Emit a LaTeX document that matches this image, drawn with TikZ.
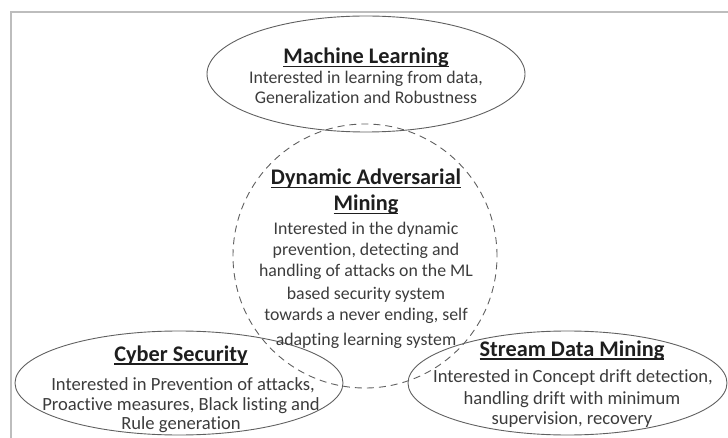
\documentclass[tikz,border=0pt]{standalone}
\usepackage{fontspec}
\setmainfont{Carlito}[Ligatures=CommonOff]
\usetikzlibrary{shapes.geometric}
\definecolor{edgegray}{HTML}{606060}
\definecolor{inkgray}{HTML}{3C3C3C}
\definecolor{headgray}{HTML}{1E1E1E}
\definecolor{framegray}{HTML}{BDBDBD}
% underlined heading with a rule thick enough for the large bold font
\newcommand{\headline}[1]{\setbox0\hbox{#1}\rlap{\rule[-3.6pt]{\wd0}{1.5pt}}\box0}

\begin{document}
\begin{tikzpicture}[x=1pt,y=-1pt,
  oval/.style={draw=edgegray, line width=0.9pt, ellipse, inner sep=0pt},
  ring/.style={draw=edgegray, line width=0.9pt, circle, inner sep=0pt, dash pattern=on 7pt off 5pt},
  ttl/.style={anchor=base, inner sep=0pt, text=headgray, font=\fontsize{22.3}{26}\selectfont\bfseries},
  txt/.style={anchor=base, inner sep=0pt, text=inkgray, font=\fontsize{17.8}{21}\selectfont},
  lowtxt/.style={txt, font=\fontsize{18.6}{22}\selectfont},
  rim/.style={draw=framegray, line width=2pt}]
\useasboundingbox (0,0) rectangle (728,438);

% page frame (left and top edges)
\coordinate (fb) at (11,440);
\coordinate (fc) at (11,12);
\coordinate (fr) at (730,12);
\draw[rim] (fb) -- (fc) -- (fr);

% outlines
\node[oval, minimum width=318pt, minimum height=116pt] (ml) at (366,74) {};
\node[ring, minimum size=264pt] (dam) at (365,256) {};
\node[oval, minimum width=328pt, minimum height=104pt] (cs) at (179,383) {};
\node[oval, minimum width=319pt, minimum height=104pt] (sdm) at (567.5,383) {};

% Machine Learning
\node[ttl] (mlt) at (366,63.5) {\headline{Machine Learning}};
\node[txt] (ml1) at (366,83.5) {Interested in learning from data,};
\node[txt] (ml2) at (366,104) {Generalization and Robustness};

% Dynamic Adversarial Mining
\node[ttl] (damt1) at (366,184.5) {\headline{Dynamic Adversarial}};
\node[ttl] (damt2) at (366,210.5) {\headline{Mining}};
\node[txt] (dam1) at (366,235) {Interested in the dynamic};
\node[txt] (dam2) at (366,256) {prevention, detecting and};
\node[txt] (dam3) at (366,277) {handling of attacks on the ML};
\node[txt] (dam4) at (366,299) {based security system};
\node[txt] (dam5) at (366,320) {towards a never ending, self};
\node[txt] (dam6) at (366,345) {adapting learning system};

% Cyber Security
\node[ttl] (cst) at (181,361) {\headline{Cyber Security}};
\node[lowtxt] (cs1) at (183,390) {Interested in Prevention of attacks,};
\node[lowtxt] (cs2) at (181,410) {Proactive measures, Black listing and};
\node[lowtxt] (cs3) at (181,429) {Rule generation};

% Stream Data Mining
\node[ttl] (sdmt) at (572,356) {\headline{Stream Data Mining}};
\node[lowtxt] (sdm1) at (573,382) {Interested in Concept drift detection,};
\node[lowtxt] (sdm2) at (572,404) {handling drift with minimum};
\node[lowtxt] (sdm3) at (572,424) {supervision, recovery};
\end{tikzpicture}
\end{document}
